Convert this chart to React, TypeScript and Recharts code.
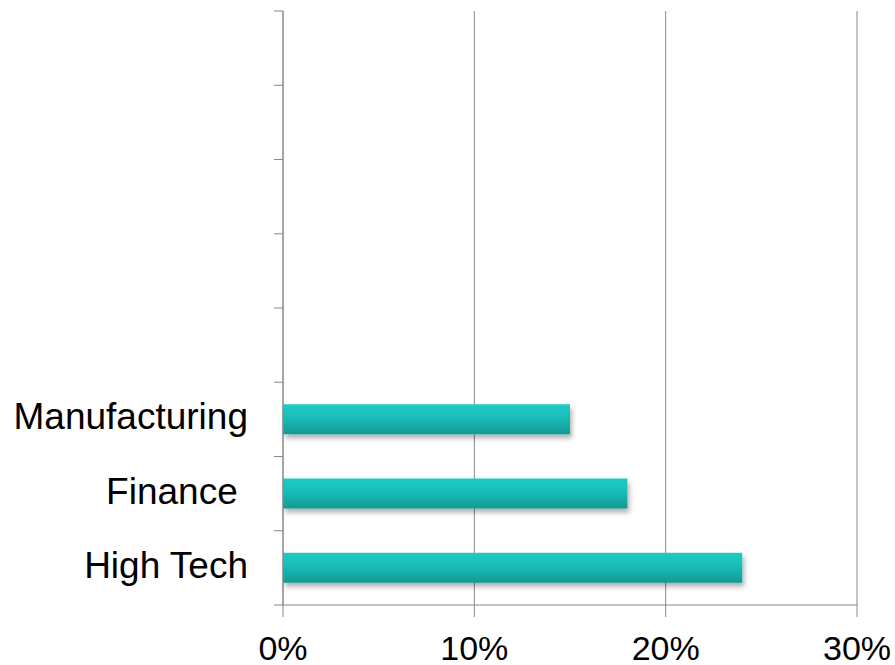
import React from 'react';
import { BarChart, Bar, XAxis, YAxis, CartesianGrid } from 'recharts';

const categories = ['e1', 'e2', 'e3', 'e4', 'e5', 'Manufacturing', 'Finance', 'High Tech'];
const tickLabels = ['', '', '', '', '', 'Manufacturing', 'Finance ', 'High Tech'];
const shareValues = [null, null, null, null, null, 0.15, 0.18, 0.24];
const xTicks = [0, 0.1, 0.2, 0.3];
const frameTicks = [0, 1, 2, 3, 4, 5, 6, 7, 8];

const data = categories.map((c, i) => ({ cat: c, pos: categories.length - i - 0.5, value: shareValues[i] }));
const labelFor = (c: string) => tickLabels[categories.indexOf(c)] ?? '';

const FONT = '"Liberation Sans", Arial, sans-serif';
const AXIS = '#878787';

const YTick = (props: any) => {
  const { x, y, payload } = props;
  return (
    <text x={x} y={y} dy={10} textAnchor="end" fontSize={37} fontFamily={FONT} fill="#000" style={{ whiteSpace: 'pre' }}>
      {labelFor(payload.value)}
    </text>
  );
};

const XTick = (props: any) => {
  const { x, y, payload } = props;
  return (
    <text x={x} y={y} dy={37} textAnchor="middle" fontSize={34} fontFamily={FONT} fill="#000">
      {`${Math.round(payload.value * 100)}%`}
    </text>
  );
};

const BarShape = (props: any) => {
  const { x, y, width, height } = props;
  if (!width || width <= 0) return null;
  return <rect x={x} y={y} width={width} height={height} fill="url(#barGrad)" filter="url(#barShadow)" />;
};

export default function App() {
  return (
    <div style={{ position: 'absolute', left: 0, top: 0, width: 895, height: 665, background: '#fff' }}>
      <BarChart
        width={895}
        height={665}
        data={data}
        layout="vertical"
        margin={{ top: 11, right: 38, bottom: 0, left: 0 }}
      >
        <defs>
          <linearGradient id="barGrad" x1="0" y1="0" x2="0" y2="1">
            <stop offset="0%" stopColor="#1dcbc5" />
            <stop offset="45%" stopColor="#19bdb7" />
            <stop offset="100%" stopColor="#139893" />
          </linearGradient>
          <filter id="barShadow" x="-5%" y="-30%" width="115%" height="180%">
            <feDropShadow dx="2" dy="4" stdDeviation="2.5" floodColor="#000" floodOpacity="0.3" />
          </filter>
        </defs>
        <CartesianGrid horizontal={false} stroke={AXIS} strokeDasharray="" />
        <XAxis
          type="number"
          domain={[0, 0.3]}
          ticks={xTicks}
          interval={0}
          height={60}
          tickSize={12}
          tickMargin={6}
          stroke={AXIS}
          tick={<XTick />}
        />
        <YAxis
          yAxisId="frame"
          type="number"
          dataKey="pos"
          orientation="left"
          mirror
          domain={[0, 8]}
          ticks={frameTicks}
          interval={0}
          tickSize={-9}
          tickFormatter={() => ''}
          stroke={AXIS}
          allowDataOverflow
        />
        <YAxis
          type="category"
          dataKey="cat"
          width={283}
          interval={0}
          axisLine={false}
          tickLine={false}
          tickSize={9}
          tickMargin={26}
          tick={<YTick />}
        />
        <Bar dataKey="value" barSize={30} isAnimationActive={false} shape={<BarShape />} />
      </BarChart>
    </div>
  );
}
